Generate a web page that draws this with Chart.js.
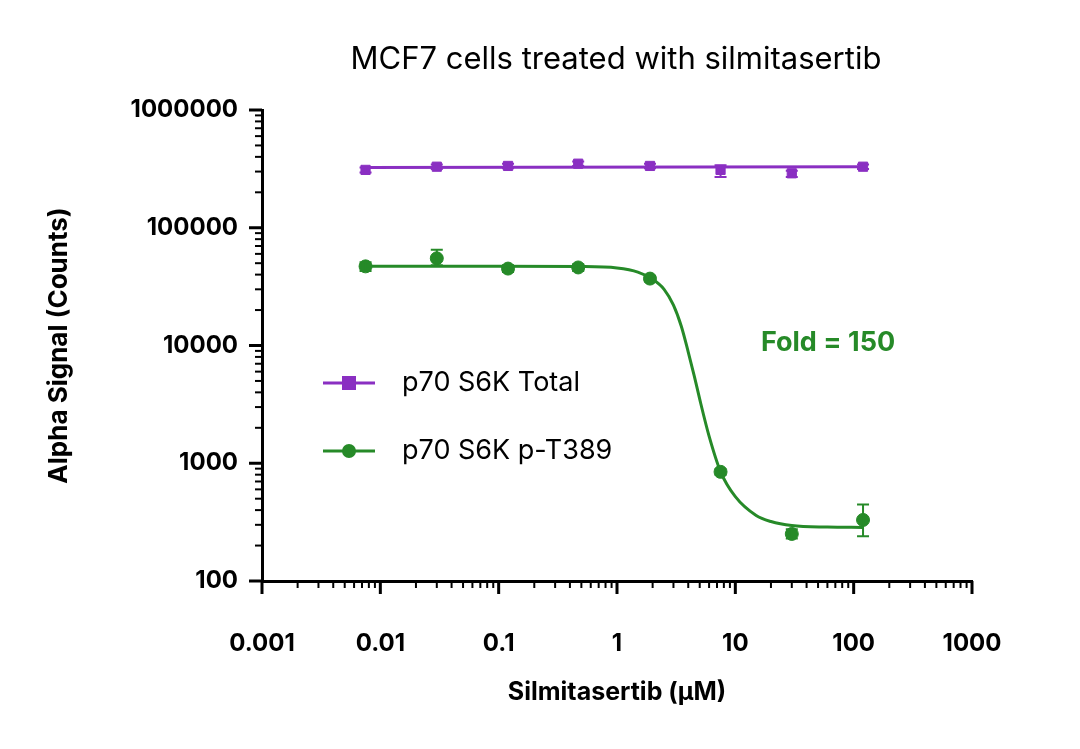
<!DOCTYPE html>
<html>
<head>
<meta charset="utf-8">
<script src="https://cdn.jsdelivr.net/npm/chart.js@4.4.1/dist/chart.umd.min.js"></script>
<style>
  html, body { margin: 0; background: #fff; }
  #wrap { width: 1080px; height: 749px; }
</style>
</head>
<body>
<div id="wrap"><canvas id="c"></canvas></div>
<script>
const conc = [0.0075, 0.03, 0.12, 0.47, 1.9, 7.5, 30, 120];
const totalVals = [310000, 330000, 335000, 350000, 335000, 310000, 290000, 330000];
const totalLo = [295000, 315000, 320000, 335000, 320000, 270000, 270000, 315000];
const totalHi = [325000, 345000, 350000, 365000, 350000, 340000, 305000, 345000];
const phosVals = [47000, 55000, 45000, 46000, 37000, 845, 251, 330];
const phosLo = [43000, 48000, 42000, 43000, 35000, 800, 230, 240];
const phosHi = [51000, 65000, 48000, 49000, 39000, 890, 275, 446];
// fitted curves
const totalFitX = [0.0075, 120];
const totalFitY = [325000, 330000];
const phosFitX = [0.0075, 0.1, 0.5, 1, 1.5, 2, 2.5, 3, 3.5, 4, 4.5, 5, 6, 7.5, 10, 15, 20, 30, 60, 120];
const phosFitY = [47000, 47000, 46800, 45500, 42000, 36500, 30000, 22000, 14500, 8800, 5500, 3500, 1700, 850, 520, 360, 320, 296, 287, 285];
const xTicks = [0.001, 0.01, 0.1, 1, 10, 100, 1000];
const yTicks = [100, 1000, 10000, 100000, 1000000];

const PURPLE = "#8a2fc2";
const GREEN = "#268a28";
const FONT = "Inter, 'Noto Sans', sans-serif";

const pts = (xs, ys) => xs.map((x, i) => ({ x, y: ys[i] }));

const decorPlugin = {
  id: "decor",
  afterDatasetsDraw(chart) {
    const { ctx, scales: { x, y } } = chart;
    ctx.save();
    // error bars
    const bars = (lo, hi, color) => {
      ctx.strokeStyle = color;
      ctx.lineWidth = 2;
      conc.forEach((c, i) => {
        const px = x.getPixelForValue(c);
        const a = y.getPixelForValue(lo[i]);
        const b = y.getPixelForValue(hi[i]);
        ctx.beginPath();
        ctx.moveTo(px, a); ctx.lineTo(px, b);
        ctx.moveTo(px - 6, a); ctx.lineTo(px + 6, a);
        ctx.moveTo(px - 6, b); ctx.lineTo(px + 6, b);
        ctx.stroke();
      });
    };
    bars(totalLo, totalHi, PURPLE);
    bars(phosLo, phosHi, GREEN);

    // ticks: major and minor
    ctx.strokeStyle = "#000";
    ctx.lineWidth = 3;
    xTicks.forEach((v) => {
      const px = x.getPixelForValue(v);
      ctx.beginPath(); ctx.moveTo(px, x.top); ctx.lineTo(px, x.top + 13); ctx.stroke();
    });
    yTicks.forEach((v) => {
      const py = y.getPixelForValue(v);
      ctx.beginPath(); ctx.moveTo(y.right, py); ctx.lineTo(y.right - 13, py); ctx.stroke();
    });
    ctx.lineWidth = 2;
    for (let d = 0.001; d < 1000; d *= 10) {
      for (let k = 2; k <= 9; k++) {
        const px = x.getPixelForValue(d * k);
        ctx.beginPath(); ctx.moveTo(px, x.top); ctx.lineTo(px, x.top + 7); ctx.stroke();
      }
    }
    for (let d = 100; d < 1000000; d *= 10) {
      for (let k = 2; k <= 9; k++) {
        const py = y.getPixelForValue(d * k);
        ctx.beginPath(); ctx.moveTo(y.right, py); ctx.lineTo(y.right - 7, py); ctx.stroke();
      }
    }

    // title
    ctx.fillStyle = "#000";
    ctx.font = "31px " + FONT;
    ctx.textAlign = "center";
    ctx.textBaseline = "middle";
    ctx.fillText("MCF7 cells treated with silmitasertib", 616, 60);

    // annotation
    ctx.fillStyle = GREEN;
    ctx.font = "bold 27px " + FONT;
    ctx.fillText("Fold = 150", 828, 343);

    // legend
    const leg = (yy, color, label, square) => {
      ctx.strokeStyle = color;
      ctx.fillStyle = color;
      ctx.lineWidth = 3;
      ctx.beginPath(); ctx.moveTo(323, yy); ctx.lineTo(375, yy); ctx.stroke();
      if (square) ctx.fillRect(342, yy - 7, 14, 14);
      else { ctx.beginPath(); ctx.arc(349, yy, 7, 0, Math.PI * 2); ctx.fill(); }
      ctx.fillStyle = "#000";
      ctx.font = "27px " + FONT;
      ctx.textAlign = "left";
      ctx.fillText(label, 402, yy);
    };
    leg(383, PURPLE, "p70 S6K Total", true);
    leg(451, GREEN, "p70 S6K p-T389", false);
    ctx.restore();
  },
};

new Chart(document.getElementById("c"), {
  type: "scatter",
  data: {
    datasets: [
      { data: pts(totalFitX, totalFitY), showLine: true, borderColor: PURPLE, borderWidth: 3, pointRadius: 0 },
      { data: pts(phosFitX, phosFitY), showLine: true, borderColor: GREEN, borderWidth: 3, pointRadius: 0, cubicInterpolationMode: "monotone" },
      { data: pts(conc, totalVals), pointStyle: "rect", pointRadius: 6.5, backgroundColor: PURPLE, borderColor: PURPLE },
      { data: pts(conc, phosVals), pointStyle: "circle", pointRadius: 6.5, backgroundColor: GREEN, borderColor: GREEN },
    ],
  },
  options: {
    responsive: true,
    maintainAspectRatio: false,
    animation: false,
    layout: { padding: { top: 110, right: 108, left: 44, bottom: 42 } },
    plugins: { legend: { display: false }, tooltip: { enabled: false } },
    scales: {
      x: {
        type: "logarithmic",
        min: 0.001,
        max: 1000,
        afterBuildTicks: (s) => { s.ticks = xTicks.map((v) => ({ value: v })); },
        afterFit: (s) => { s.height = 126; },
        grid: { display: false },
        border: { display: true, color: "#000", width: 3 },
        ticks: { color: "#000", font: { family: FONT, size: 24, weight: "bold" }, padding: 40, maxRotation: 0, callback: (v) => String(v) },
        title: { display: true, text: "Silmitasertib (µM)", color: "#000", font: { family: FONT, size: 25, weight: "bold" }, padding: 0 },
      },
      y: {
        type: "logarithmic",
        min: 100,
        max: 1000000,
        afterBuildTicks: (s) => { s.ticks = yTicks.map((v) => ({ value: v })); },
        afterFit: (s) => { s.width = 218; },
        grid: { display: false },
        border: { display: true, color: "#000", width: 3 },
        ticks: { color: "#000", font: { family: FONT, size: 24, weight: "bold" }, padding: 16, callback: (v) => String(v) },
        title: { display: true, text: "Alpha Signal (Counts)", color: "#000", font: { family: FONT, size: 26, weight: "bold" }, padding: 0 },
      },
    },
  },
  plugins: [decorPlugin],
});
</script>
</body>
</html>
